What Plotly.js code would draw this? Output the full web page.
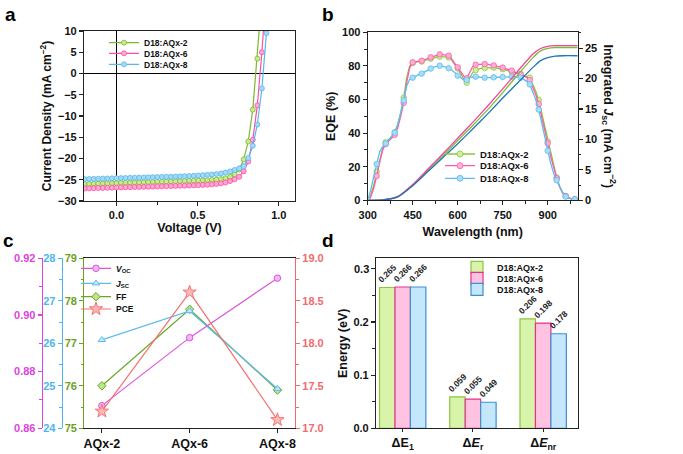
<!DOCTYPE html>
<html>
<head>
<meta charset="utf-8">
<script src="https://cdn.plot.ly/plotly-3.0.1.min.js"></script>
<style>html,body{margin:0;padding:0;background:#fff;}#chart{width:683px;height:454px;}</style>
</head>
<body>
<div id="chart"></div>
<script>
// ---------- Panel a: J-V ----------
const voltage = [-0.196,-0.168,-0.140,-0.112,-0.084,-0.056,-0.028,0.000,0.028,0.056,0.084,0.112,0.140,0.168,0.196,0.224,0.252,0.280,0.308,0.336,0.364,0.392,0.420,0.448,0.476,0.504,0.532,0.560,0.588,0.616,0.644,0.672,0.700,0.728,0.756,0.784,0.812,0.840,0.868,0.896,0.924,0.952];
const jvAQx2 = [-26.00,-25.97,-25.94,-25.90,-25.87,-25.84,-25.81,-25.78,-25.74,-25.71,-25.68,-25.65,-25.61,-25.58,-25.55,-25.52,-25.48,-25.45,-25.42,-25.39,-25.35,-25.32,-25.29,-25.26,-25.22,-25.18,-25.14,-25.10,-25.04,-24.96,-24.84,-24.64,-24.32,-23.72,-22.60,-20.20,-16.00,-8.50,3.50,18.00,32.00,45.00];
const jvAQx6 = [-27.05,-27.02,-26.99,-26.96,-26.93,-26.90,-26.87,-26.84,-26.81,-26.78,-26.75,-26.72,-26.69,-26.66,-26.63,-26.60,-26.57,-26.54,-26.51,-26.48,-26.45,-26.42,-26.39,-26.35,-26.31,-26.27,-26.22,-26.16,-26.08,-25.98,-25.84,-25.64,-25.32,-24.90,-24.30,-23.00,-20.70,-15.60,-7.50,5.00,20.00,35.00];
const jvAQx8 = [-24.85,-24.82,-24.79,-24.76,-24.73,-24.70,-24.67,-24.64,-24.61,-24.58,-24.55,-24.52,-24.49,-24.46,-24.43,-24.40,-24.37,-24.34,-24.31,-24.28,-24.25,-24.21,-24.17,-24.12,-24.06,-24.00,-23.93,-23.85,-23.76,-23.65,-23.50,-23.30,-23.05,-22.70,-22.30,-21.80,-19.90,-17.00,-12.00,-3.50,9.50,25.00];

// ---------- Panel b: EQE ----------
const wavelength = [300,310,320,330,340,350,360,370,380,390,400,410,420,430,440,450,460,470,480,490,500,510,520,530,540,550,560,570,580,590,600,610,620,630,640,650,660,670,680,690,700,710,720,730,740,750,760,770,780,790,800,810,820,830,840,850,860,870,880,890,900,910,920,930,940,950,960,970,980,990,1000];
const eqeAQx2 = [0,3,9,17,25,31,34.5,36,38,40.5,45,52,61,73,80,81.8,82.2,82.4,82.6,83.1,83.7,84.3,84.8,85.2,85.5,85.5,85.3,85.0,83.5,80.8,78.5,75.5,72,70,73,76,77.5,78.2,78.6,78.8,79,79,79,78.7,78.4,78,77.5,77,76.5,76,75.6,75.2,74.5,73.8,73,69,65,59.7,52,44,35,27,19.5,13.5,8,4.5,2.5,1.4,0.9,0.6,0.3];
const eqeAQx6 = [0,2,7,14.5,23,30,33.5,35,37,39,43,50,58,70,79,82.1,82.6,82.9,83.1,83.6,84.4,85.1,85.8,86.4,86.9,86.7,86.4,86.1,84,81.5,79.2,76.5,74,72.6,76,79.5,80.7,80.9,81,81.1,80.9,80.6,80.3,79.9,79.5,79,78.4,77.8,77.2,76.5,75.7,75,74.2,73.2,71.5,67.5,63,57.3,50,42,33.9,26,19,13.1,8,4.5,2.5,1.4,0.9,0.6,0.3];
const eqeAQx8 = [0,6,14,21.6,29,32,33.8,36,38,40.3,45,52,59.5,68,72,73,74,74.8,75.4,76.5,77.5,78.4,79.2,79.8,80.1,79.8,79.3,78.6,77.5,76,74.2,72.8,71.6,71.6,72.8,73.4,73.6,73.4,73.2,73,73,73.1,73.2,73.3,73.4,73.4,73.5,73.5,73.5,73.5,73.3,73,72,70.8,69,65,60,54,46,38,29.5,22,16,12,7,4,2.2,1.3,0.8,0.6,0.3];
const intWavelength = [300,350,400,450,500,550,600,650,700,750,800,850,875,900,925,950,1000];
const intJscAQx2 = [0,0.05,0.6,2.5,4.9,7.3,9.8,12.3,14.9,17.7,20.6,23.4,24.5,24.95,25.1,25.1,25.1];
const intJscAQx6 = [0,0.05,0.6,2.6,5.1,7.6,10.2,12.8,15.5,18.3,21.2,24.0,24.9,25.3,25.4,25.4,25.4];
const intJscAQx8 = [0,0.05,0.55,2.4,4.7,7.0,9.3,11.7,14.2,16.8,19.3,21.8,22.9,23.45,23.7,23.75,23.75];

// ---------- Panel c: parameters ----------
const devices = ['AQx-2','AQx-6','AQx-8'];
const vocVals = [0.868, 0.892, 0.913];
const jscVals = [26.08, 26.76, 24.93];
const ffVals  = [76.0, 77.8, 75.9];
const pceVals = [17.2, 18.6, 17.1];

// ---------- Panel d: energy loss ----------
const lossCats = ['ΔE<sub>1</sub>', 'Δ<i>E</i><sub>r</sub>', 'Δ<i>E</i><sub>nr</sub>'];
const lossAQx2 = [0.265, 0.059, 0.206];
const lossAQx6 = [0.266, 0.055, 0.198];
const lossAQx8 = [0.266, 0.049, 0.178];
const energyTicks = [0, 0.1, 0.2, 0.3];
const energyTopTick = 0.3;

const seriesNames = ['D18:AQx-2','D18:AQx-6','D18:AQx-8'];

// ---------- helpers ----------
const W = 683, H = 454;
const F = 'Liberation Sans, Arial, Helvetica, sans-serif';
const px = x => x / W;
const py = y => 1 - y / H;
const tf = (size, color) => ({family: F, size: size, weight: 'bold', color: color || '#111'});
function ax(o) {
  return Object.assign({
    showline: true, linecolor: '#222', linewidth: 1.1,
    ticks: 'outside', ticklen: 4, tickwidth: 1.1, tickcolor: '#222',
    showgrid: false, zeroline: false, tickfont: tf(11), fixedrange: true,
    ticklabeloverflow: 'allow', automargin: false
  }, o);
}
function minor(dt, col) { return {ticks: 'outside', ticklen: 2.5, tickwidth: 1, tickcolor: col || '#222', dtick: dt, showgrid: false}; }
function lg(xp, yp, size) {
  return {x: px(xp), y: py(yp), xanchor: 'left', yanchor: 'middle', bgcolor: 'rgba(0,0,0,0)',
          borderwidth: 0, font: tf(size, '#111'), itemwidth: 30, tracegroupgap: 0};
}

const jvStyle = [
  {line: '#7cb82f', fill: '#c8eb90'},
  {line: '#ff4da6', fill: '#ffa8d2'},
  {line: '#58b8ee', fill: '#a3d9f7'}
];
const eqeStyle = [
  {line: '#8cc63f', fill: '#d2efa0', integ: '#7dbb3a'},
  {line: '#ff5aa5', fill: '#ffb0d5', integ: '#f2449a'},
  {line: '#5cbdf0', fill: '#a8dcf8', integ: '#1f78b8'}
];

const traces = [];

// Panel a traces
[jvAQx2, jvAQx6, jvAQx8].forEach((J, i) => {
  traces.push({
    type: 'scatter', mode: 'lines+markers', x: voltage, y: J, name: seriesNames[i],
    xaxis: 'x', yaxis: 'y', legend: i === 0 ? 'legend' : 'legend' + (i + 1),
    line: {color: jvStyle[i].line, width: 1.2},
    marker: {symbol: 'circle', size: 5, color: jvStyle[i].fill, line: {color: jvStyle[i].line, width: 0.8}}
  });
});

// Panel b traces
[intJscAQx2, intJscAQx6, intJscAQx8].forEach((J, i) => {
  traces.push({
    type: 'scatter', mode: 'lines', x: intWavelength, y: J, showlegend: false,
    xaxis: 'x2', yaxis: 'y7', line: {color: eqeStyle[i].integ, width: 1.3, shape: 'spline', smoothing: 0.6},
    hoverinfo: 'skip'
  });
});
[eqeAQx2, eqeAQx6, eqeAQx8].forEach((E, i) => {
  traces.push({
    type: 'scatter', mode: 'lines', x: wavelength, y: E, showlegend: false,
    xaxis: 'x2', yaxis: 'y2', line: {color: eqeStyle[i].line, width: 1.3}
  });
  const mx = [], my = [];
  wavelength.forEach((w, k) => { if ((w - 300) % 30 === 0) { mx.push(w); my.push(E[k]); } });
  traces.push({
    type: 'scatter', mode: 'markers', x: mx, y: my, showlegend: false,
    xaxis: 'x2', yaxis: 'y2',
    marker: {symbol: 'circle', size: 5.5, color: eqeStyle[i].fill, line: {color: eqeStyle[i].line, width: 0.8}}
  });
  traces.push({
    type: 'scatter', mode: 'lines+markers', x: [null], y: [null], name: seriesNames[i],
    xaxis: 'x2', yaxis: 'y2', legend: 'legend' + (4 + i),
    line: {color: eqeStyle[i].line, width: 1.3},
    marker: {symbol: 'circle', size: 6, color: eqeStyle[i].fill, line: {color: eqeStyle[i].line, width: 0.8}}
  });
});

// Panel c traces
const cStyle = [
  {name: '<i>V</i><sub>OC</sub>', y: vocVals, ya: 'y5', sym: 'circle', size: 6.5, line: '#dd55dd', fill: '#f3b5f3'},
  {name: '<i>J</i><sub>SC</sub>', y: jscVals, ya: 'y4', sym: 'triangle-up', size: 6.5, line: '#5bbcf0', fill: '#c4e8fb'},
  {name: 'FF', y: ffVals, ya: 'y3', sym: 'diamond', size: 6.5, line: '#6aa528', fill: '#c0e48a'},
  {name: 'PCE', y: pceVals, ya: 'y6', sym: 'star', size: 10, line: '#f47272', fill: '#ffb8b8'}
];
cStyle.forEach((s, i) => {
  traces.push({
    type: 'scatter', mode: 'lines+markers', x: devices, y: s.y, name: s.name,
    xaxis: 'x3', yaxis: s.ya, legend: 'legend' + (7 + i),
    line: {color: s.line, width: 1.2},
    marker: {symbol: s.sym, size: s.size, color: s.fill, line: {color: s.line, width: 1}},
    cliponaxis: false
  });
});

// Panel d traces
const dStyle = [
  {fill: '#d8f3aa', line: '#8cc63f'},
  {fill: '#ffc2e0', line: '#e2338a'},
  {fill: '#c4e7fb', line: '#3d90d2'}
];
[lossAQx2, lossAQx6, lossAQx8].forEach((v, i) => {
  traces.push({
    type: 'bar', x: lossCats, y: v, name: seriesNames[i],
    xaxis: 'x4', yaxis: 'y8', legend: 'legend' + (11 + i),
    marker: {color: dStyle[i].fill, line: {color: dStyle[i].line, width: 1.2}},
    texttemplate: '%{y:.3f}', textposition: 'outside', textangle: -45,
    textfont: tf(8.5, '#222'), cliponaxis: false, constraintext: 'none'
  });
});

const annotations = [
  {text: 'a', x: px(3), y: py(2), xref: 'paper', yref: 'paper', xanchor: 'left', yanchor: 'top', showarrow: false, font: tf(19, '#000')},
  {text: 'b', x: px(320), y: py(2), xref: 'paper', yref: 'paper', xanchor: 'left', yanchor: 'top', showarrow: false, font: tf(19, '#000')},
  {text: 'c', x: px(1), y: py(228), xref: 'paper', yref: 'paper', xanchor: 'left', yanchor: 'top', showarrow: false, font: tf(19, '#000')},
  {text: 'd', x: px(320), y: py(228), xref: 'paper', yref: 'paper', xanchor: 'left', yanchor: 'top', showarrow: false, font: tf(19, '#000')},
  {text: 'Integrated <i>J</i><sub>sc</sub> (mA cm<sup>−2</sup>)', x: px(608), y: py(116.5), xref: 'paper', yref: 'paper',
   xanchor: 'center', yanchor: 'middle', textangle: 90, showarrow: false, font: tf(12.5, '#111')},
  // top tick label of the energy axis, placed on the axis scale
  {text: energyTopTick.toFixed(1), x: px(370.5), y: energyTopTick, xref: 'paper', yref: 'y8',
   xanchor: 'right', yanchor: 'middle', showarrow: false, font: tf(11, '#111')}
];

const layout = {
  width: W, height: H, margin: {l: 0, r: 0, t: 0, b: 0},
  paper_bgcolor: '#fff', plot_bgcolor: 'rgba(0,0,0,0)',
  font: {family: F, size: 11, weight: 'bold', color: '#111'},
  barmode: 'group', bargap: 0.34, bargroupgap: 0,
  // Panel a
  xaxis: ax({domain: [px(84), px(295)], anchor: 'y', range: [-0.2, 1.1], tick0: 0, dtick: 0.5, tickformat: '.1f',
             minor: minor(0.25), mirror: true, zeroline: true, zerolinecolor: '#000', zerolinewidth: 1,
             title: {text: 'Voltage (V)', font: tf(12.5), standoff: 3}}),
  yaxis: ax({domain: [py(201), py(31)], anchor: 'x', range: [-30, 10], dtick: 5, mirror: true,
             zeroline: true, zerolinecolor: '#000', zerolinewidth: 1,
             title: {text: 'Current Density (mA cm<sup>−2</sup>)', font: tf(12), standoff: 3}}),
  // Panel b
  xaxis2: ax({domain: [px(367.7), px(577.7)], anchor: 'y2', range: [300, 1000], tick0: 300, dtick: 150,
              minor: minor(75), mirror: true,
              title: {text: 'Wavelength (nm)', font: tf(12.5), standoff: 7}}),
  yaxis2: ax({domain: [py(200.3), py(32.3)], anchor: 'x2', range: [0, 100], dtick: 20, minor: minor(10),
              title: {text: 'EQE (%)', font: tf(12.5), standoff: 3}}),
  yaxis7: ax({overlaying: 'y2', side: 'right', anchor: 'x2', range: [0, 27.6], dtick: 5, minor: minor(2.5)}),
  // Panel c
  xaxis3: ax({domain: [px(84.3), px(295)], anchor: 'y3', type: 'category', range: [-0.2, 2.2], mirror: true,
              tickfont: tf(12.5)}),
  yaxis3: ax({domain: [py(428.3), py(258.3)], anchor: 'x3', range: [75, 79], dtick: 1, minor: minor(0.5, '#6aa121'),
              linecolor: '#6aa121', tickcolor: '#6aa121', tickfont: tf(11, '#6aa121')}),
  yaxis4: ax({overlaying: 'y3', anchor: 'free', position: px(61.7), side: 'left', range: [24, 28], dtick: 1,
              minor: minor(0.5, '#4db6ee'), linecolor: '#4db6ee', tickcolor: '#4db6ee', tickfont: tf(11, '#4db6ee')}),
  yaxis5: ax({overlaying: 'y3', anchor: 'free', position: px(41.7), side: 'left', range: [0.86, 0.92], dtick: 0.02,
              tickformat: '.2f', minor: minor(0.01, '#dd44dd'), linecolor: '#dd44dd', tickcolor: '#dd44dd',
              tickfont: tf(11, '#dd44dd')}),
  yaxis6: ax({overlaying: 'y3', side: 'right', anchor: 'x3', range: [17, 19], dtick: 0.5, tickformat: '.1f',
              minor: minor(0.25, '#f06b6b'), linecolor: '#f06b6b', tickcolor: '#f06b6b', tickfont: tf(11, '#f06b6b')}),
  // Panel d
  xaxis4: ax({domain: [px(376), px(578.3)], anchor: 'y8', type: 'category', range: [-0.38, 2.5], mirror: true,
              ticks: 'outside', ticklen: 3, tickfont: tf(12.5)}),
  yaxis8: ax({domain: [py(428.3), py(258.3)], anchor: 'x4', range: [0, 0.32], tickmode: 'array',
              tickvals: energyTicks, ticktext: energyTicks.map(v => v === energyTopTick ? '' : v.toFixed(1)),
              minor: {ticks: 'outside', ticklen: 2.5, tickwidth: 1, tickcolor: '#222', tickmode: 'array',
                      tickvals: [0.05, 0.15, 0.25]},
              mirror: true,
              title: {text: 'Energy (eV)', font: tf(12.5), standoff: 3}}),
  // legends
  legend:   lg(104, 42.7, 8.5),
  legend2:  lg(104, 53.3, 8.5),
  legend3:  lg(104, 64.3, 8.5),
  legend4:  lg(440, 154, 9.5),
  legend5:  lg(440, 165.7, 9.5),
  legend6:  lg(440, 178.3, 9.5),
  legend7:  lg(76, 268.3, 8.5),
  legend8:  lg(76, 283.3, 8.5),
  legend9:  lg(76, 296.7, 8.5),
  legend10: lg(76, 309, 8.5),
  legend11: lg(457, 267.3, 9),
  legend12: lg(457, 278.3, 9),
  legend13: lg(457, 289.3, 9),
  annotations: annotations
};

Plotly.newPlot('chart', traces, layout, {displayModeBar: false, staticPlot: true});
</script>
</body>
</html>
